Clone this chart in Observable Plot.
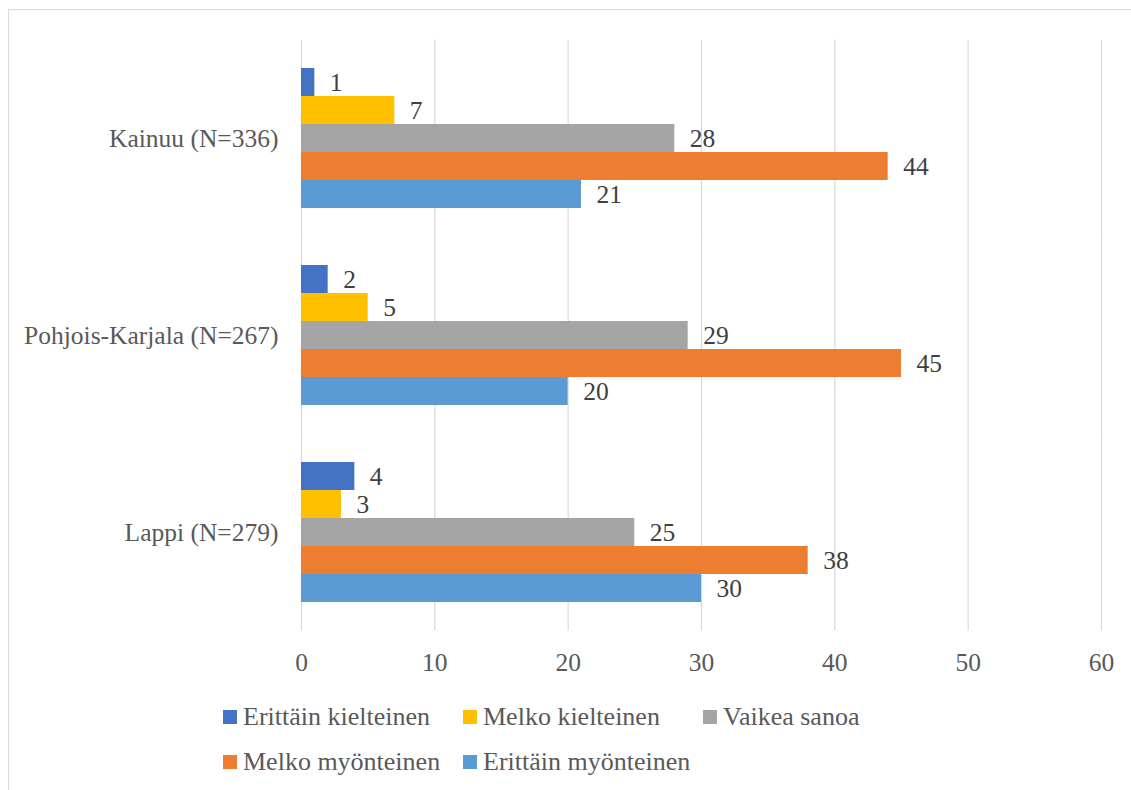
<!DOCTYPE html>
<html>
<head>
<meta charset="utf-8">
<script src="https://cdn.jsdelivr.net/npm/d3@7"></script>
<script src="https://cdn.jsdelivr.net/npm/@observablehq/plot@0.6"></script>
<style>
  html, body { margin: 0; padding: 0; background: #fff; overflow: hidden; }
  #wrap { position: relative; width: 1131px; height: 790px; overflow: hidden; font-family: "Liberation Serif", "DejaVu Serif", serif; color: #595959; }
  #border { position: absolute; left: 8px; top: 9px; width: 1300px; height: 1000px; border: 1px solid #d9d9d9; box-sizing: border-box; }
  #chart { position: absolute; left: 0; top: 0; }
  .lg { position: absolute; display: flex; align-items: center; font-size: 26px; white-space: nowrap; line-height: 1; }
  .sw { width: 14px; height: 14px; margin-right: 6px; flex: none; }
</style>
</head>
<body>
<div id="wrap">
  <div id="border"></div>
  <div id="chart"></div>
  <div id="legend"></div>
</div>
<script>
const regions = ["Kainuu (N=336)", "Pohjois-Karjala (N=267)", "Lappi (N=279)"];
const series = ["Erittäin kielteinen", "Melko kielteinen", "Vaikea sanoa", "Melko myönteinen", "Erittäin myönteinen"];
const colors = ["#4472C4", "#FFC000", "#A5A5A5", "#ED7D31", "#5B9BD5"];
const erittainKielteinen = [1, 2, 4];
const melkoKielteinen = [7, 5, 3];
const vaikeaSanoa = [28, 29, 25];
const melkoMyonteinen = [44, 45, 38];
const erittainMyonteinen = [21, 20, 30];
const xTicks = [0, 10, 20, 30, 40, 50, 60];

const seriesValues = [erittainKielteinen, melkoKielteinen, vaikeaSanoa, melkoMyonteinen, erittainMyonteinen];
const data = [];
regions.forEach((r, i) => {
  series.forEach((s, j) => {
    data.push({region: r, series: s, value: seriesValues[j][i]});
  });
});

const gap = 26.4;
const chart = Plot.plot({
  width: 1131,
  height: 690,
  marginLeft: 301,
  marginRight: 30,
  marginTop: 39,
  marginBottom: 59,
  style: {fontFamily: '"Liberation Serif", "DejaVu Serif", serif', fontSize: "25.5px", color: "#595959", background: "transparent"},
  x: {domain: [0, 60], ticks: xTicks, tickSize: 0, tickPadding: 48, label: null},
  y: {domain: series, padding: 0, axis: null},
  fy: {domain: regions, paddingInner: 0.268, paddingOuter: 0.134, axis: "left", tickSize: 0, tickPadding: 23, label: null},
  color: {domain: series, range: colors},
  marks: [
    Plot.ruleX(xTicks, {x: d => d, stroke: "#d9d9d9", strokeWidth: 1.2, insetTop: -gap, insetBottom: -gap}),
    Plot.barX(data, {x: "value", y: "series", fy: "region", fill: "series"}),
    Plot.text(data, {x: "value", y: "series", fy: "region", text: d => String(d.value), dx: 15, textAnchor: "start", fill: "#404040", fontSize: 25.5})
  ]
});
document.getElementById("chart").appendChild(chart);

const legend = document.getElementById("legend");
const cols = [223, 463, 703];
const rows = [717, 762];
series.forEach((s, i) => {
  const row = i < 3 ? 0 : 1;
  const col = i < 3 ? i : i - 3;
  const el = document.createElement("div");
  el.className = "lg";
  el.style.left = cols[col] + "px";
  el.style.top = (rows[row] - 13) + "px";
  el.style.height = "26px";
  const sw = document.createElement("div");
  sw.className = "sw";
  sw.style.background = colors[i];
  const t = document.createElement("span");
  t.textContent = s;
  el.appendChild(sw);
  el.appendChild(t);
  legend.appendChild(el);
});
</script>
</body>
</html>
